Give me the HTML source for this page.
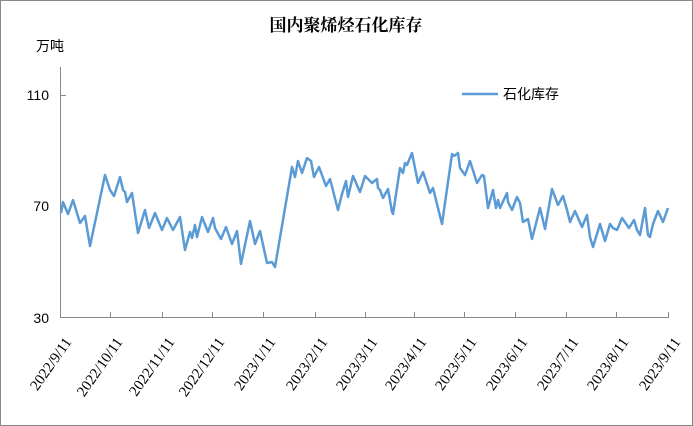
<!DOCTYPE html>
<html><head><meta charset="utf-8"><style>
html,body{margin:0;padding:0;background:#fff;}
svg{display:block;}
</style></head><body>
<svg width="693" height="426" xmlns="http://www.w3.org/2000/svg">
<rect x="0.5" y="0.5" width="692" height="425" fill="#fff" stroke="#888"/>
<text x="346" y="31" text-anchor="middle" font-family="'Liberation Serif','Noto Serif CJK SC',serif" font-weight="bold" font-size="17" fill="#000">国内聚烯烃石化库存</text>
<text x="36" y="51" font-family="'Liberation Sans','Noto Sans CJK SC',sans-serif" font-size="14" fill="#000">万吨</text>
<g font-family="'Liberation Sans',sans-serif" font-size="14" fill="#000" text-anchor="end">
<text x="49" y="100">110</text>
<text x="49" y="211">70</text>
<text x="49" y="323">30</text>
</g>
<g stroke="#888" stroke-width="1" fill="none">
<line x1="60.5" y1="67" x2="60.5" y2="317"/>
<line x1="60" y1="317.5" x2="669" y2="317.5"/>
<line x1="60" y1="95.5" x2="66" y2="95.5"/>
<line x1="60" y1="206.5" x2="66" y2="206.5"/>
<g>
<line x1="110.5" y1="312" x2="110.5" y2="317"/><line x1="162.5" y1="312" x2="162.5" y2="317"/><line x1="212.5" y1="312" x2="212.5" y2="317"/><line x1="263.5" y1="312" x2="263.5" y2="317"/><line x1="315.5" y1="312" x2="315.5" y2="317"/><line x1="365.5" y1="312" x2="365.5" y2="317"/><line x1="414.5" y1="312" x2="414.5" y2="317"/><line x1="464.5" y1="312" x2="464.5" y2="317"/><line x1="515.5" y1="312" x2="515.5" y2="317"/><line x1="566.5" y1="312" x2="566.5" y2="317"/><line x1="616.5" y1="312" x2="616.5" y2="317"/><line x1="668.5" y1="312" x2="668.5" y2="317"/>
</g></g>
<g font-family="'Liberation Serif',serif" font-size="15" fill="#000" text-anchor="end">
<text transform="translate(72,342) rotate(-55)">2022/9/11</text>
<text transform="translate(123,342) rotate(-55)">2022/10/11</text>
<text transform="translate(175,342) rotate(-55)">2022/11/11</text>
<text transform="translate(225,342) rotate(-55)">2022/12/11</text>
<text transform="translate(276,342) rotate(-55)">2023/1/11</text>
<text transform="translate(328,342) rotate(-55)">2023/2/11</text>
<text transform="translate(378,342) rotate(-55)">2023/3/11</text>
<text transform="translate(427,342) rotate(-55)">2023/4/11</text>
<text transform="translate(477,342) rotate(-55)">2023/5/11</text>
<text transform="translate(528,342) rotate(-55)">2023/6/11</text>
<text transform="translate(579,342) rotate(-55)">2023/7/11</text>
<text transform="translate(629,342) rotate(-55)">2023/8/11</text>
<text transform="translate(681,342) rotate(-55)">2023/9/11</text>
</g>
<polyline fill="none" stroke="#5B9BD5" stroke-width="2.5" stroke-linejoin="round" points="
61,213 63,202 68,214 73,200 80,223 85,216 90,246 105,175 110,190 114,196 120,177 123,190 125,192 127,202 132,193 138,233 145,210 149,228 155,213 162,230 167,218 173,230 180,217 185,250 190,232 192,238 195,225 197,237 202,217 208,232 213,218 215,228 221,239 226,227 232,244 237,231 241,264 250,221 255,244 260,231 267,263 272,262 275,267 292,167 295,177 298,161 302,173 307,158 311,161 314,177 319,167 326,186 330,179 338,210 342,194 346,181 348,197 353,176 360,192 365,176 372,183 377,179 378,188 380,190 383,198 388,189 392,212 393,214 400,168 403,173 405,163 407,165 412,153 418,183 423,172 430,193 433,188 442,224 452,154 454,156 458,153 460,168 465,175 470,161 477,183 482,175 484,176 488,208 493,190 496,208 498,200 500,208 507,193 508,202 512,210 517,197 520,203 523,222 528,219 532,239 540,208 545,229 552,189 558,205 563,196 567,210 570,222 575,211 582,227 587,215 590,237 593,247 600,224 605,241 610,224 613,228 617,230 622,218 629,228 634,220 637,230 640,235 645,208 648,235 650,237 653,224 658,211 663,222 668,208"/>
<line x1="462" y1="94" x2="498" y2="94" stroke="#5B9BD5" stroke-width="2.5"/>
<text x="503" y="99" font-family="'Liberation Sans','Noto Sans CJK SC',sans-serif" font-size="14" fill="#000">石化库存</text>
</svg>
</body></html>
